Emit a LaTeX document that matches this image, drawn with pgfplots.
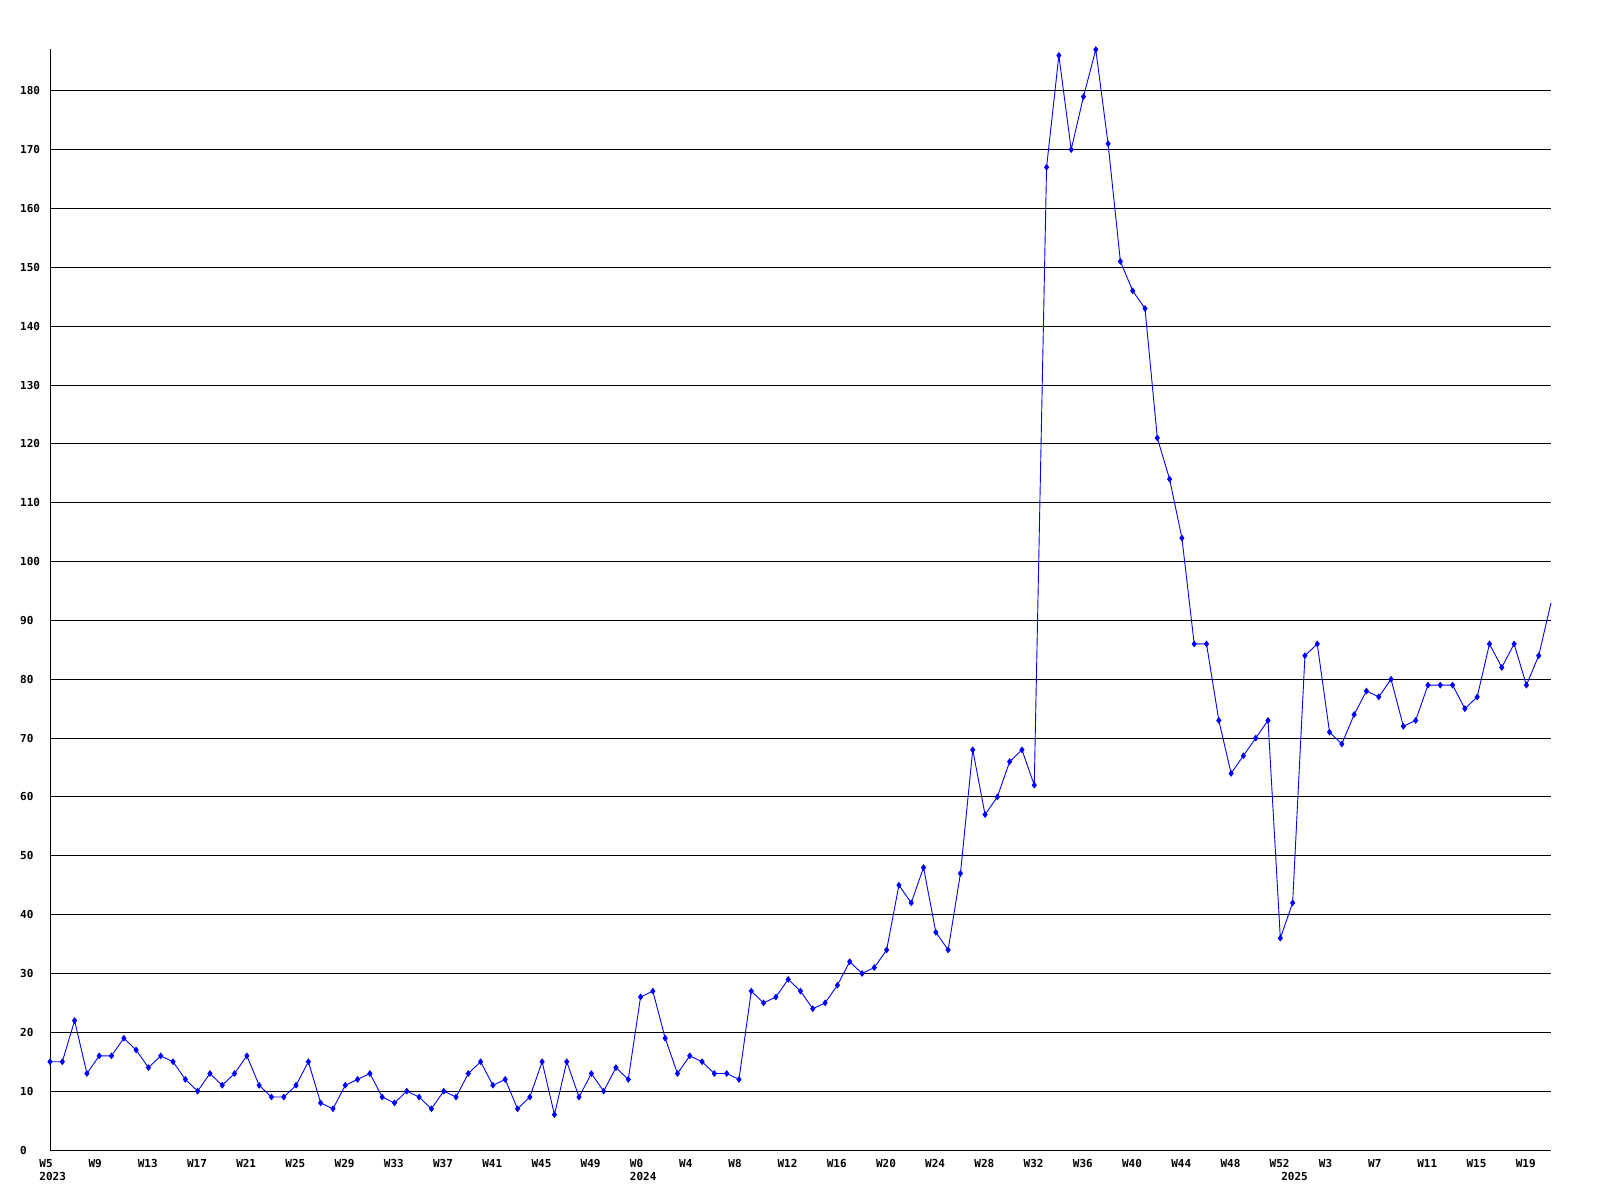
\documentclass[border=0pt]{standalone}
\usepackage{fontspec}
\setmonofont{DejaVu Sans Mono}
\usepackage{pgfplots}
\pgfplotsset{compat=1.18}
\usepackage{pgfplotstable}
\definecolor{lineblue}{RGB}{0,0,255}
\pgfplotstableread{
x y
0 15
1 15
2 22
3 13
4 16
5 16
6 19
7 17
8 14
9 16
10 15
11 12
12 10
13 13
14 11
15 13
16 16
17 11
18 9
19 9
20 11
21 15
22 8
23 7
24 11
25 12
26 13
27 9
28 8
29 10
30 9
31 7
32 10
33 9
34 13
35 15
36 11
37 12
38 7
39 9
40 15
41 6
42 15
43 9
44 13
45 10
46 14
47 12
48 26
49 27
50 19
51 13
52 16
53 15
54 13
55 13
56 12
57 27
58 25
59 26
60 29
61 27
62 24
63 25
64 28
65 32
66 30
67 31
68 34
69 45
70 42
71 48
72 37
73 34
74 47
75 68
76 57
77 60
78 66
79 68
80 62
81 167
82 186
83 170
84 179
85 187
86 171
87 151
88 146
89 143
90 121
91 114
92 104
93 86
94 86
95 73
96 64
97 67
98 70
99 73
100 36
101 42
102 84
103 86
104 71
105 69
106 74
107 78
108 77
109 80
110 72
111 73
112 79
113 79
114 79
115 75
116 77
117 86
118 82
119 86
120 79
121 84
122 93
}\datatable
\begin{document}
\begin{tikzpicture}
\path[use as bounding box, fill=white] (0,0) rectangle (1600pt,1200pt);
\begin{axis}[
  at={(50pt,50pt)}, anchor=south west,
  scale only axis,
  width=1501pt, height=1101pt,
  xmin=0, xmax=122, ymin=0, ymax=187.1,
  axis lines*=left,
  axis line style={black, line width=1pt},
  clip=false,
  xtick={0,4,...,120},
  xticklabels={W5,W9,W13,W17,W21,W25,W29,W33,W37,W41,W45,W49,W0,W4,W8,W12,W16,W20,W24,W28,W32,W36,W40,W44,W48,W52,W3,W7,W11,W15,W19},
  ytick={0,10,...,180},
  ymajorgrids,
  grid style={black, line width=1pt},
  major tick length=0pt,
  tick style={draw=none},
  /pgf/number format/assume math mode=true,
  ticklabel style={font=\ttfamily\bfseries\fontsize{11}{12}\selectfont, inner sep=0pt},
  xticklabel style={anchor=north west, xshift=-10.8pt, yshift=-9pt},
  yticklabel style={anchor=west, xshift=-30pt},
]
\addplot[color=lineblue, line width=0.9pt, mark=diamond*, mark size=2.7pt, mark indices={1,...,122}, mark options={solid, fill=lineblue}] table[x=x,y=y] {\datatable};
\node[anchor=north west, inner sep=0pt, xshift=-10.8pt, yshift=-22pt, font=\ttfamily\bfseries\fontsize{11}{12}\selectfont] at (axis cs:0,0) {2023};
\node[anchor=north west, inner sep=0pt, xshift=-10.8pt, yshift=-22pt, font=\ttfamily\bfseries\fontsize{11}{12}\selectfont] at (axis cs:48,0) {2024};
\node[anchor=north west, inner sep=0pt, xshift=-11.5pt, yshift=-22pt, font=\ttfamily\bfseries\fontsize{11}{12}\selectfont] at (axis cs:101,0) {2025};
\end{axis}
\end{tikzpicture}
\end{document}
